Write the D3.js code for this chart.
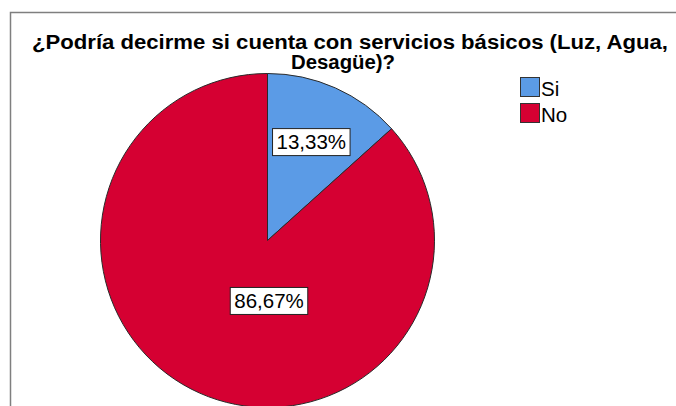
<!DOCTYPE html>
<html>
<head>
<meta charset="utf-8">
<script src="https://cdn.jsdelivr.net/npm/d3@7"></script>
<style>
  body { margin: 0; background: #fff; overflow: hidden; }
  svg { display: block; font-family: 'Liberation Sans', Arial, sans-serif; }
</style>
</head>
<body>
<div id="chart"></div>
<script>
// chart data
const categories = ['Si', 'No'];
const values = [13.33, 86.67];
const colors = ['#5b9be6', '#d50032'];
const titleLines = ['¿Podría decirme si cuenta con servicios básicos (Luz, Agua,', 'Desagüe)?'];

const w = 676, h = 406;
const cx = 267.5, cy = 240.5, r = 167;

const svg = d3.select('#chart').append('svg').attr('width', w).attr('height', h);

// frame: only left and top edges are visible in the crop
svg.append('path')
  .attr('d', `M10.5,${h} V12.5 H${w}`)
  .attr('fill', 'none')
  .attr('stroke', '#7f7f7f')
  .attr('stroke-width', 1.5);

// title (stretched a bit to match the original's wider bold face)
const titleWidths = [636, 104];
svg.append('g')
  .selectAll('text')
  .data(titleLines)
  .enter()
  .append('text')
  .attr('x', (d, i) => (i === 0 ? 350 : 343))
  .attr('y', (d, i) => 49 + i * 20)
  .attr('text-anchor', 'middle')
  .attr('font-size', 20)
  .attr('font-weight', 'bold')
  .attr('textLength', (d, i) => titleWidths[i])
  .attr('lengthAdjust', 'spacingAndGlyphs')
  .attr('fill', '#000')
  .text((d) => d);

const pie = d3.pie().sort(null).value((d) => d);
const arcs = pie(values);
const arc = d3.arc().innerRadius(0).outerRadius(r);
const labelArc = d3.arc().innerRadius(r * 0.645).outerRadius(r * 0.645);

const g = svg.append('g').attr('transform', `translate(${cx},${cy})`);

g.selectAll('path')
  .data(arcs)
  .enter()
  .append('path')
  .attr('d', arc)
  .attr('fill', (d, i) => colors[i])
  .attr('stroke', '#2a2a2a')
  .attr('stroke-width', 1);

// labels: small slice along its mid angle, big slice just below centre
const fmt = (v) => v.toFixed(2).replace('.', ',') + '%';
const labels = g.selectAll('.lbl')
  .data(arcs)
  .enter()
  .append('g')
  .attr('class', 'lbl')
  .attr('transform', (d) => {
    const big = d.endAngle - d.startAngle > Math.PI;
    const p = big ? [1.5, r * 0.362] : labelArc.centroid(d);
    return `translate(${p})`;
  });

labels.append('text')
  .attr('text-anchor', 'middle')
  .attr('dy', '0.36em')
  .attr('font-size', 20.5)
  .attr('fill', '#000')
  .text((d) => fmt(d.data))
  .each(function () {
    const b = this.getBBox();
    d3.select(this.parentNode)
      .insert('rect', 'text')
      .attr('x', b.x - 4)
      .attr('y', -13.5)
      .attr('width', b.width + 8)
      .attr('height', 27)
      .attr('fill', '#fff')
      .attr('stroke', '#222')
      .attr('stroke-width', 1);
  });

// legend
const legend = svg.append('g').attr('transform', 'translate(520,77)');
const items = legend.selectAll('g')
  .data(categories)
  .enter()
  .append('g')
  .attr('transform', (d, i) => `translate(0,${i * 26})`);

items.append('rect')
  .attr('x', 0.5).attr('y', 0.5)
  .attr('width', 19).attr('height', 19)
  .attr('fill', (d, i) => colors[i])
  .attr('stroke', '#333')
  .attr('stroke-width', 1);

items.append('text')
  .attr('x', 21)
  .attr('y', 19)
  .attr('font-size', 20.5)
  .attr('fill', '#000')
  .text((d) => d);
</script>
</body>
</html>
